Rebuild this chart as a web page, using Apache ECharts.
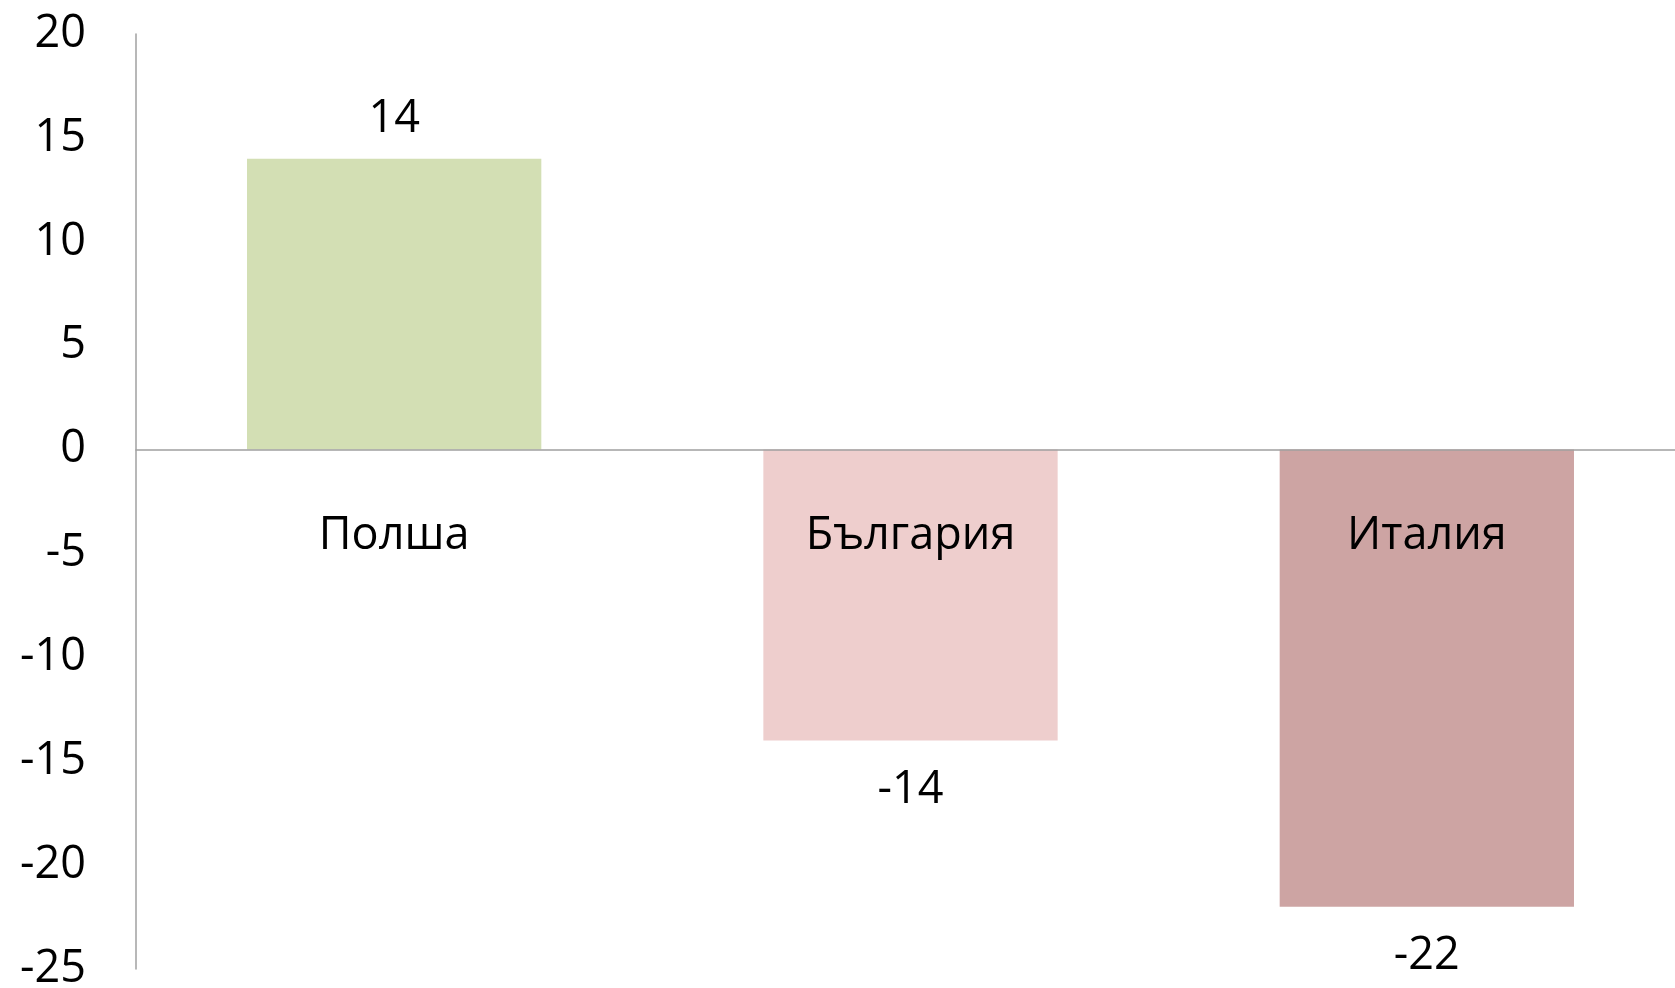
<!DOCTYPE html>
<html>
<head>
<meta charset="utf-8">
<script src="https://cdn.jsdelivr.net/npm/echarts@6/dist/echarts.min.js"></script>
<style>
html,body{margin:0;padding:0;background:#fff;}
#chart{width:1675px;height:988px;}
</style>
</head>
<body>
<div id="chart"></div>
<script>
const categories = ['Полша', 'България', 'Италия'];
const values = [14, -14, -22];
const barColors = ['#D3DFB4', '#EECECD', '#CDA4A3'];
const yTicks = [-25, -20, -15, -10, -5, 0, 5, 10, 15, 20];

const FONT = 'Open Sans';
const chart = echarts.init(document.getElementById('chart'), null, {renderer: 'canvas'});
chart.setOption({
  animation: false,
  backgroundColor: '#ffffff',
  grid: {left: 136, top: 34, width: 1549, height: 935, containLabel: false, outerBoundsMode: 'none'},
  xAxis: {
    type: 'category',
    data: categories,
    z: 5,
    axisLine: {onZero: true, lineStyle: {color: '#A0A0A0', width: 1.5}},
    axisTick: {show: false},
    axisLabel: {
      color: '#000', fontFamily: FONT, fontSize: 45,
      margin: -433, verticalAlign: 'middle', interval: 0
    },
    splitLine: {show: false}
  },
  yAxis: {
    type: 'value',
    min: yTicks[0], max: yTicks[yTicks.length - 1], interval: 5,
    axisLine: {show: true, lineStyle: {color: '#A0A0A0', width: 1.5}},
    axisTick: {show: false},
    splitLine: {show: false},
    axisLabel: {color: '#000', fontFamily: FONT, fontSize: 45, margin: 50, align: 'right', padding: [4, 0, 0, 0]}
  },
  series: [{
    type: 'bar',
    barWidth: '57%',
    data: values.map((v, i) => ({
      value: v,
      itemStyle: {color: barColors[i]},
      label: {position: v >= 0 ? 'top' : 'bottom'}
    })),
    label: {
      show: true, color: '#000', fontFamily: FONT, fontSize: 45, distance: 22, offset: [0, 5]
    }
  }]
});
</script>
</body>
</html>
